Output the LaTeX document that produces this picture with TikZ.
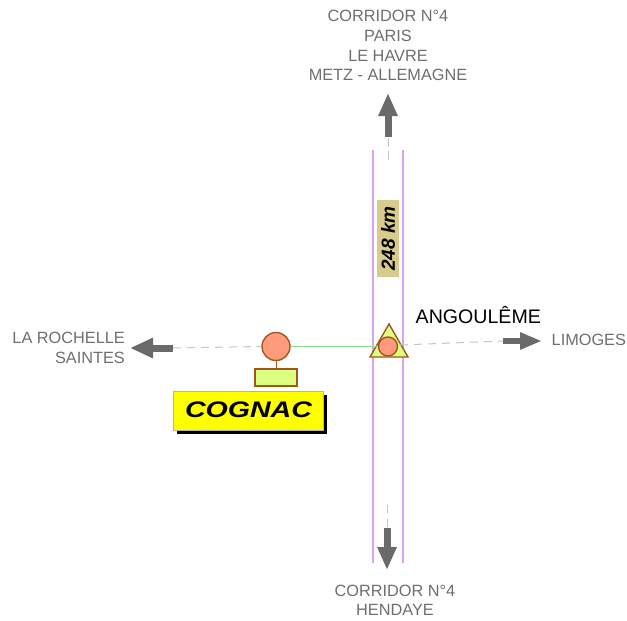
\documentclass[tikz,border=0pt]{standalone}
\usepackage{fontspec}
\setmainfont{Liberation Sans}
\usetikzlibrary{arrows.meta,shapes.geometric}
\definecolor{txtgray}{HTML}{6E6E6E}
\definecolor{arrgray}{HTML}{6A6A6A}
\definecolor{dashgray}{HTML}{C4C4C4}
\definecolor{violetline}{HTML}{D8A4F2}
\definecolor{brownb}{HTML}{A0561E}
\definecolor{salmonf}{HTML}{FF9A7A}
\definecolor{limef}{HTML}{DDFF80}
\definecolor{tanf}{HTML}{D9CA8E}
\definecolor{greenl}{HTML}{8CE08C}
\definecolor{yelf}{HTML}{FFFF00}
\begin{document}
\begin{tikzpicture}[x=1pt,y=-1pt,
  gtext/.style={inner sep=0pt, text=txtgray, font=\fontsize{16.3}{20}\selectfont},
  garrow/.style={line width=7pt, draw=arrgray, -{Triangle[length=23pt,width=18pt]}},
  dashl/.style={draw=dashgray, line width=1pt, dash pattern=on 8pt off 6pt},
  vline/.style={draw=violetline, line width=1.2pt},
  symb/.style={draw=brownb, line width=1.4pt}]
\useasboundingbox (0,0) rectangle (627,621);

% vertical corridor lines
\coordinate (v1t) at (373,150); \coordinate (v1b) at (373,563);
\coordinate (v2t) at (403,150); \coordinate (v2b) at (403,563);
\draw[vline] (v1t) -- (v1b);
\draw[vline] (v2t) -- (v2b);

% centre dashes
\coordinate (ct1) at (388,138); \coordinate (ct2) at (388,160);
\coordinate (cb1) at (387,505); \coordinate (cb2) at (387,528);
\draw[dashl, dash pattern=on 9pt off 4pt] (ct1) -- (ct2);
\draw[dashl, dash pattern=on 8pt off 6pt] (cb1) -- (cb2);

% arrows
\coordinate (aut) at (388,137); \coordinate (auh) at (388,93);
\draw[garrow] (aut) -- (auh);
\coordinate (adt) at (387,528); \coordinate (adh) at (387,570);
\draw[garrow] (adt) -- (adh);
\coordinate (alt) at (173,348); \coordinate (alh) at (130,348);
\draw[garrow, -{Triangle[length=23pt,width=19pt]}] (alt) -- (alh);
\coordinate (art) at (503,341); \coordinate (arh) at (542,341);
\draw[garrow, line width=6pt, -{Triangle[length=22pt,width=16pt]}] (art) -- (arh);

% km label
\node[fill=tanf, rotate=90, inner xsep=6pt, inner ysep=4pt,
  font=\fontsize{19}{19}\selectfont\bfseries\itshape] (km) at (388,238.5) {248 km};

% Cognac symbols
\node[circle, symb, fill=salmonf, minimum size=28pt, inner sep=0pt] (cog) at (276,346.5) {};
\node[rectangle, symb, fill=limef, minimum width=42pt, minimum height=17pt, inner sep=0pt] (cogrect) at (276,377.5) {};
\draw[brownb, line width=0.8pt] (cog.south) -- (cogrect.north);

% Angouleme symbol
\coordinate (t1) at (389,324); \coordinate (t2) at (370,357); \coordinate (t3) at (408,357);
\draw[symb, fill=limef, line join=miter] (t1) -- (t2) -- (t3) -- cycle;
\node[circle, symb, fill=salmonf, minimum size=19pt, inner sep=0pt] (ang) at (388,346.5) {};

% connectors
\draw[greenl, line width=0.9pt] (cog.east) -- (ang.west);
\coordinate (tr) at (400,345);
\draw[dashl] (alt) -- (cog.west);
\draw[dashl] (tr) -- (art);

% Cognac label
\coordinate (shA) at (177,395); \coordinate (shB) at (327,434);
\fill[black] (shA) rectangle (shB);
\coordinate (ybA) at (173,391); \coordinate (ybB) at (323,430);
\draw[fill=yelf, draw=gray!60, line width=0.5pt] (ybA) rectangle (ybB);
\node[inner sep=0pt, font=\fontsize{22.5}{22}\selectfont\bfseries\itshape] (cogtxt) at (248.5,409.5) {\scalebox{1.27}[1]{COGNAC}};

% place names
\node[inner sep=0pt, anchor=base west, font=\fontsize{19.6}{20}\selectfont] (angtxt) at (415.5,323.3) {ANGOULÊME};
\node[gtext, anchor=base west] (lim) at (551.5,345.7) {LIMOGES};
\node[gtext, anchor=base east] (lar) at (125,343.3) {LA ROCHELLE};
\node[gtext, anchor=base east] (sai) at (125,363.3) {SAINTES};
\node[gtext, anchor=base] (n1) at (388,21.6) {CORRIDOR N°4};
\node[gtext, anchor=base] (n2) at (388,41.3) {PARIS};
\node[gtext, anchor=base] (n3) at (388,61) {LE HAVRE};
\node[gtext, anchor=base] (n4) at (388,80.7) {METZ - ALLEMAGNE};
\node[gtext, anchor=base] (s1) at (395,596.7) {CORRIDOR N°4};
\node[gtext, anchor=base] (s2) at (395,615) {HENDAYE};
\end{tikzpicture}
\end{document}
